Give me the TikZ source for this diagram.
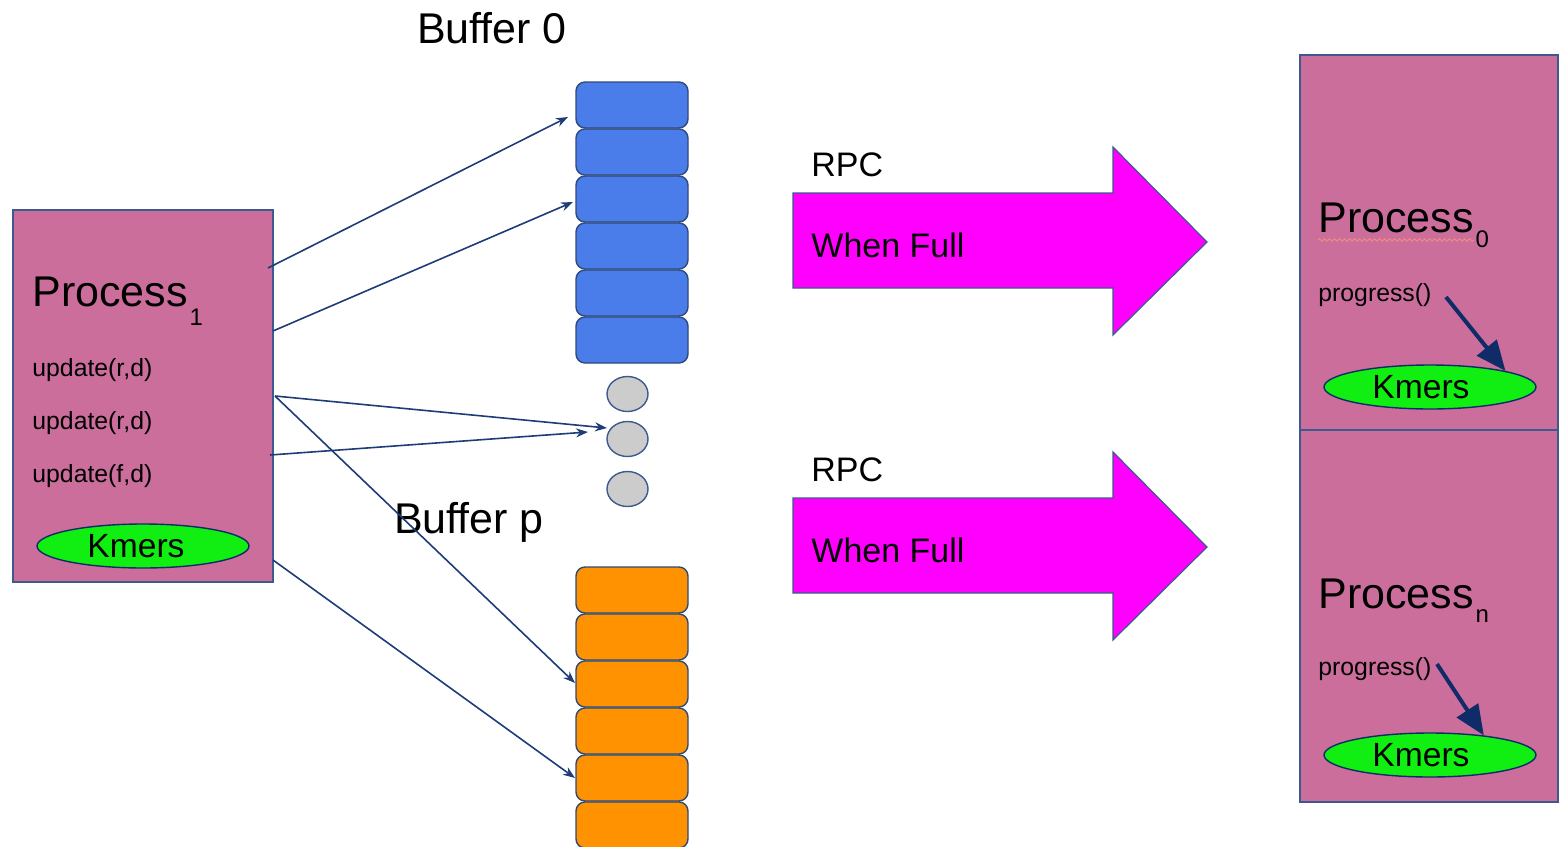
\documentclass[tikz,border=0pt]{standalone}
\usepackage{fontspec}
\setmainfont{Liberation Sans}
\usetikzlibrary{arrows.meta,shapes.geometric,decorations.pathmorphing}
\definecolor{pinkbox}{HTML}{CC6E9C}
\definecolor{edgeblue}{HTML}{3D5A8E}
\definecolor{navy}{HTML}{1E3C78}
\definecolor{darknavy}{HTML}{0F2C68}
\definecolor{cellblue}{HTML}{4A7DE9}
\definecolor{cellorange}{HTML}{FF9200}
\definecolor{celledge}{HTML}{2E4A78}
\definecolor{kgreen}{HTML}{11EE11}
\definecolor{dotgray}{HTML}{CCCCCC}
\definecolor{magentaarrow}{HTML}{FF00FF}
\definecolor{spellred}{HTML}{F08A80}
\begin{document}
\begin{tikzpicture}[x=0.5pt,y=-0.5pt,
  procbox/.style={draw=edgeblue,line width=0.8pt,fill=pinkbox,inner sep=0pt,minimum width=#1},
  procbox/.default=130pt,
  cellblue/.style={draw=celledge,line width=0.7pt,fill=cellblue,rounded corners=4.5pt,minimum width=56pt,minimum height=23pt,inner sep=0pt},
  cellorange/.style={cellblue,fill=cellorange},
  kmers/.style={ellipse,draw=darknavy,line width=0.7pt,fill=kgreen,minimum width=106pt,minimum height=22pt,inner sep=0pt,font=\fontsize{16.8}{18}\selectfont},
  grayball/.style={ellipse,draw=edgeblue,line width=0.7pt,fill=dotgray,minimum width=20.5pt,minimum height=17.5pt,inner sep=0pt},
  conn/.style={draw=navy,line width=0.8pt,-{Stealth[length=6pt,width=4.5pt]}},
  thickarr/.style={draw=darknavy,line width=2pt,-{Triangle[length=15pt,width=12.5pt]}},
  bigarrow/.style={draw=edgeblue,line width=0.6pt,fill=magentaarrow},
  lbl/.style={anchor=base west,inner sep=0pt},
  bigtxt/.style={font=\fontsize{21.5}{24}\selectfont},
  smalltxt/.style={font=\fontsize{12.4}{14}\selectfont},
  midtxt/.style={font=\fontsize{17}{19}\selectfont}
]
\useasboundingbox (0,0) rectangle (1560,847);

% ---- left process box ----
\node[procbox,minimum height=186pt] (p1) at (143,396) {};
\node[lbl,bigtxt] (p1t) at (32,306) {Process\raisebox{-9.5pt}{\hspace{1pt}\fontsize{12}{14}\selectfont 1}};
\node[lbl,smalltxt] (u1) at (32,376) {update(r,d)};
\node[lbl,smalltxt] (u2) at (32,429) {update(r,d)};
\node[lbl,smalltxt] (u3) at (32,482) {update(f,d)};
\node[kmers] (k1) at (143,546) {Kmers\rule{7pt}{0pt}};

% ---- buffers ----
\node[anchor=base,inner sep=0pt,bigtxt] (buf0) at (492,43) {Buffer 0};
\foreach \i/\y in {1/105,2/152,3/199,4/246,5/293,6/340}
  \node[cellblue] (b0\i) at (632,\y) {};
\foreach \i/\y in {1/394,2/439,3/489}
  \node[grayball] (g\i) at (627.5,\y) {};
\foreach \i/\y in {1/590,2/637,3/684,4/731,5/778,6/825}
  \node[cellorange] (bp\i) at (632,\y) {};
\node[anchor=base,inner sep=0pt,bigtxt] (bufp) at (469,533) {Buffer p};

% ---- connectors ----
\coordinate (s1) at (268,268);
\coordinate (s2) at (273,331);
\coordinate (s3) at (275,396);
\coordinate (s4) at (270,455);
\coordinate (s5) at (273,560);
\coordinate (t1) at (568,117);
\coordinate (t2) at (573,202);
\coordinate (t3) at (588,432);
\coordinate (t4) at (607,428);
\coordinate (t5) at (575,683);
\coordinate (t6) at (575,778);
\draw[conn] (s1) -- (t1);
\draw[conn] (s2) -- (t2);
\draw[conn] (s3) -- (t4);
\draw[conn] (s4) -- (t3);
\draw[conn] (s3) -- (t5);
\draw[conn] (s5) -- (t6);

% ---- RPC arrows ----
\draw[bigarrow] (793,193) -- (1113,193) -- (1113,147) -- (1207,242) -- (1113,335) -- (1113,288) -- (793,288) -- cycle;
\node[lbl,midtxt] (rpc1) at (811,176) {RPC};
\node[lbl,midtxt] (wf1) at (811,257) {When Full};
\draw[bigarrow] (793,498) -- (1113,498) -- (1113,452) -- (1207,547) -- (1113,640) -- (1113,593) -- (793,593) -- cycle;
\node[lbl,midtxt] (rpc2) at (811,481) {RPC};
\node[lbl,midtxt] (wf2) at (811,562) {When Full};

% ---- right process boxes ----
\node[procbox=129pt,minimum height=187.5pt] (p0) at (1429,242.5) {};
\node[procbox=129pt,minimum height=186pt] (pn) at (1429,616) {};
\node[lbl,bigtxt] (p0t) at (1318,232) {Process\raisebox{-7.5pt}{\hspace{1pt}\fontsize{12}{14}\selectfont 0}};
\draw[spellred,line width=0.5pt,decorate,decoration={snake,amplitude=0.6pt,segment length=2.5pt}] (1318,240) -- (1474,240);
\node[lbl,smalltxt] (pg0) at (1318,301) {progress()};
\node[kmers] (k0) at (1430,387) {Kmers\rule{9pt}{0pt}};
\coordinate (a0) at (1446,297);
\draw[thickarr] (a0) -- (k0.12);

\node[lbl,bigtxt] (pnt) at (1318,608) {Process\raisebox{-7pt}{\hspace{1pt}\fontsize{12}{14}\selectfont n}};
\node[lbl,smalltxt] (pgn) at (1318,675) {progress()};
\node[kmers] (kn) at (1430,755) {Kmers\rule{9pt}{0pt}};
\coordinate (an) at (1437,664);
\draw[thickarr] (an) -- (kn.20);
\end{tikzpicture}
\end{document}
